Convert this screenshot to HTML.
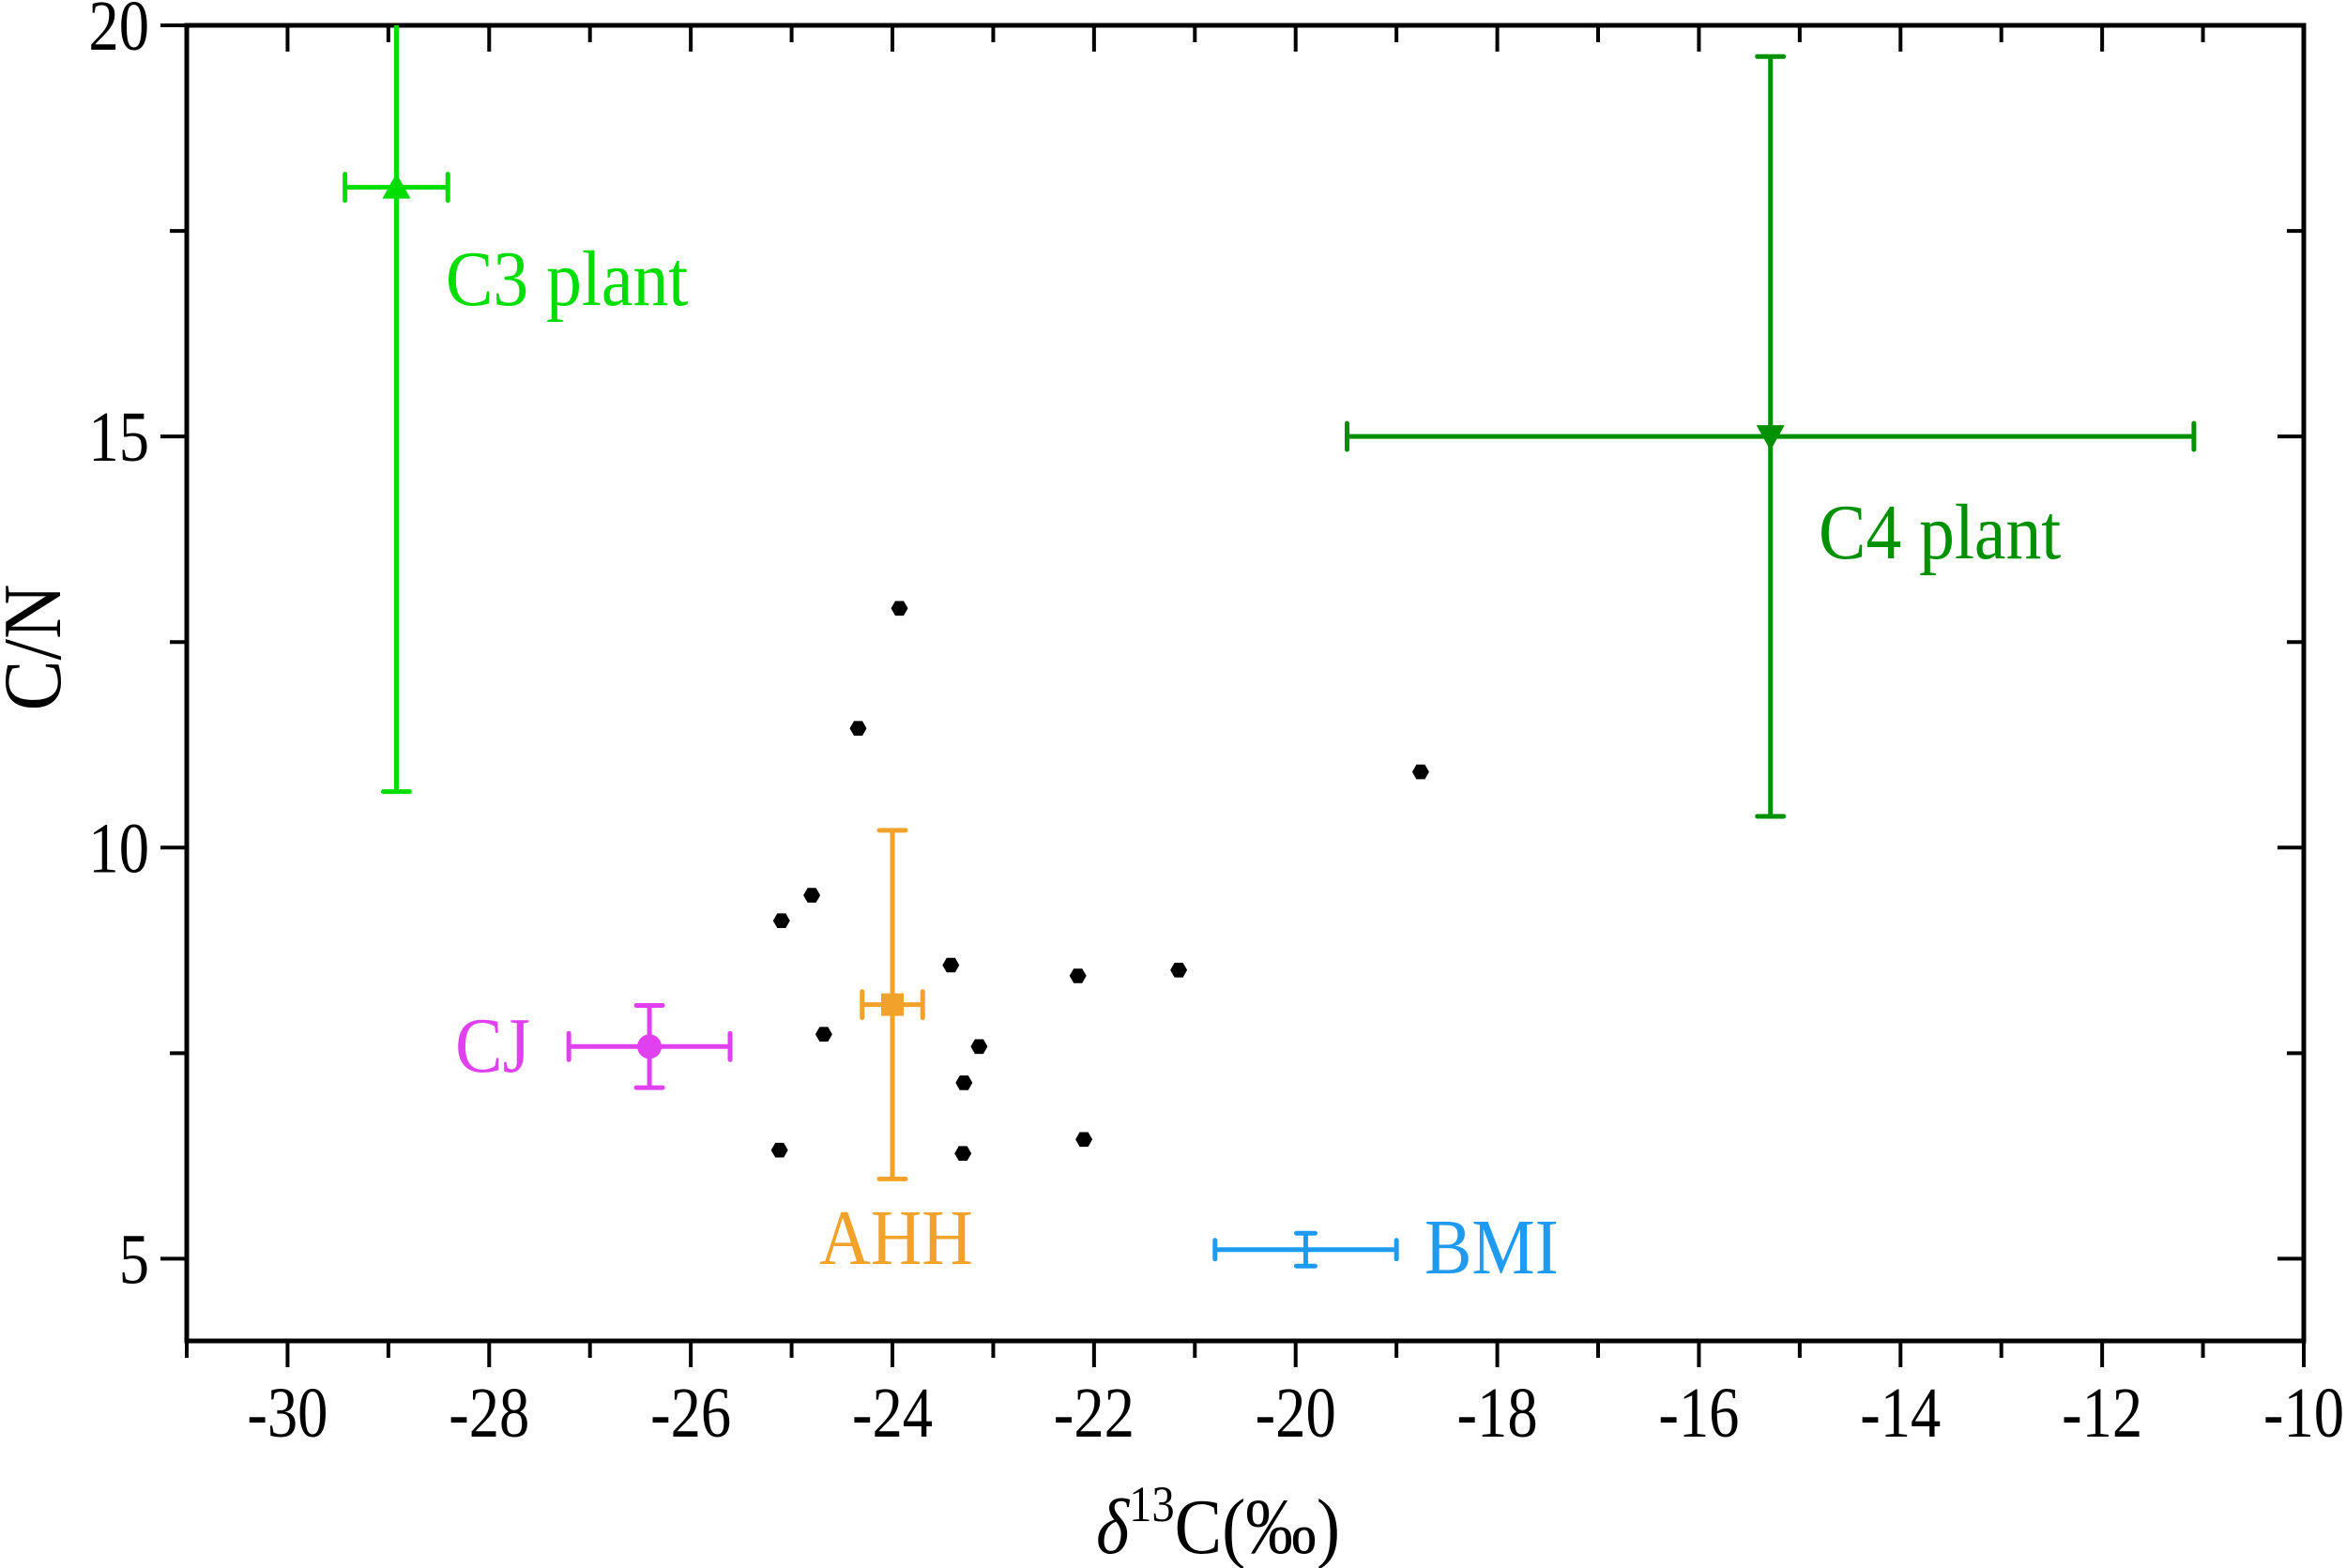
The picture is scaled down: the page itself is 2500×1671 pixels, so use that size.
<!DOCTYPE html>
<html><head><meta charset="utf-8"><style>
html,body{margin:0;padding:0;background:#fff;}
svg{display:block;font-family:"Liberation Serif",serif;}
</style></head><body>
<svg id="chart" width="2500" height="1671" viewBox="0 0 2500 1671" xmlns="http://www.w3.org/2000/svg">
<g id="axes"></g>
<g id="marks"></g>
<text x="0" y="0" transform="translate(64,690) rotate(-90) scale(0.92,1)" font-size="88" text-anchor="middle">C/N</text>
<text x="0" y="0" transform="translate(1298,1655) scale(0.9,1)" font-size="84" text-anchor="middle"><tspan font-style="italic">δ</tspan><tspan font-size="54" dy="-34">13</tspan><tspan dy="34">C(‰)</tspan></text>
</svg>
<script>
const xTicks = [-30,-28,-26,-24,-22,-20,-18,-16,-14,-12,-10];
const yTicks = [5,10,15,20];
const sampleX = [-23.93,-24.34,-18.76,-24.80,-25.10,-23.42,-22.16,-21.16,-24.68,-23.14,-23.29,-25.12,-23.30,-22.10];
const sampleY = [12.91,11.45,10.92,9.42,9.11,8.57,8.44,8.51,7.73,7.58,7.14,6.32,6.28,6.45];
const groupNames = ["C3 plant","C4 plant","AHH","CJ","BMI"];
const groupX = [-28.92,-15.29,-24.0,-26.41,-19.90];
const groupY = [18.03,15.0,8.09,7.58,5.11];
const groupXErr = [0.51,4.2,0.3,0.8,0.9];
const groupYErr = [7.35,4.62,2.12,0.5,0.2];

const X0=-31,X1=-10,Y0=4,Y1=20;
const L=199,R=2455,T=27,B=1429;
const xs=v=>L+(v-X0)/(X1-X0)*(R-L);
const ys=v=>B-(v-Y0)/(Y1-Y0)*(B-T);
const NS="http://www.w3.org/2000/svg";
function mk(tag,attrs,parent){const e=document.createElementNS(NS,tag);for(const k in attrs)e.setAttribute(k,attrs[k]);parent.appendChild(e);return e;}
const axes=document.getElementById('axes'), marks=document.getElementById('marks');
let frame=mk('rect',{x:L,y:T,width:R-L,height:B-T,fill:'none',stroke:'#000','stroke-width':5},axes);


for(let v=-31;v<=-10;v++){
  const major=xTicks.includes(v);
  const x=xs(v);
  let t=mk('line',{x1:x,x2:x,y1:B,y2:B+(major?28:18),stroke:'#000','stroke-width':4},axes);
  
  
  let t2=mk('line',{x1:x,x2:x,y1:T,y2:T+(major?28:18),stroke:'#000','stroke-width':4},axes);
  
  
}
xTicks.forEach(v=>{
  let tx=mk('text',{x:0,y:0,transform:`translate(${xs(v)},${B+102}) scale(0.85,1)`,'font-size':76,'text-anchor':'middle'},axes);
  tx.textContent=v;
  
  
});
for(let v=5;v<=20;v+=2.5){
  const major=yTicks.includes(v);
  const y=ys(v);
  let t=mk('line',{x1:L-(major?28:18),x2:L,y1:y,y2:y,stroke:'#000','stroke-width':4},axes);
  
  
  let t2=mk('line',{x1:R-(major?28:18),x2:R,y1:y,y2:y,stroke:'#000','stroke-width':4},axes);
  
  
}
yTicks.forEach(v=>{
  let tx=mk('text',{x:0,y:0,transform:`translate(${L-40},${ys(v)+26}) scale(0.85,1)`,'font-size':76,'text-anchor':'end'},axes);
  tx.textContent=v;
  
  
});
sampleX.forEach((v,i)=>{
  const cx=xs(v),cy=ys(sampleY[i]),r=9;
  let pts=[];for(let k=0;k<6;k++){const a=Math.PI/3*k;pts.push((cx+r*Math.cos(a)).toFixed(1)+','+(cy+r*Math.sin(a)).toFixed(1));}
  let p=mk('polygon',{points:pts.join(' '),fill:'#000'},marks);
  
  
});
const colors=['#00dd00','#009100','#f0a22a','#e040f0','#1e9bf0'];
const shapes=['tri-up','tri-down','square','circle','none'];
const labelPos=[[475,325,'start'],[1938,595,'start'],[955,1347,'middle'],[565,1142,'end'],[1518,1357,'start']];
const cap=[14,14,14,14,10];
const clip=mk('clipPath',{id:'pc'},marks);mk('rect',{x:L,y:T,width:R-L,height:B-T},clip);
groupNames.forEach((n,i)=>{
  const g=mk('g',{'clip-path':'url(#pc)'},marks);
  
  
  const c=colors[i],cx=xs(groupX[i]),cy=ys(groupY[i]);
  const x1=xs(groupX[i]-groupXErr[i]),x2=xs(groupX[i]+groupXErr[i]);
  const y1=ys(groupY[i]+groupYErr[i]),y2=ys(groupY[i]-groupYErr[i]);
  const sw=5,h=cap[i];
  let e=mk('path',{d:`M${x1},${cy}H${x2}M${x1},${cy-h}V${cy+h}M${x2},${cy-h}V${cy+h}M${cx},${y1}V${y2}M${cx-h},${y1}H${cx+h}M${cx-h},${y2}H${cx+h}`,stroke:c,'stroke-width':sw,fill:'none','stroke-linecap':'round'},g);
  
  
  let m=null;const s=15;
  if(shapes[i]==='tri-up')m=mk('polygon',{points:`${cx},${cy-s} ${cx-s},${cy+s*0.8} ${cx+s},${cy+s*0.8}`,fill:c},g);
  else if(shapes[i]==='tri-down')m=mk('polygon',{points:`${cx},${cy+s} ${cx-s},${cy-s*0.8} ${cx+s},${cy-s*0.8}`,fill:c},g);
  else if(shapes[i]==='square')m=mk('rect',{x:cx-12,y:cy-12,width:24,height:24,fill:c},g);
  else if(shapes[i]==='circle')m=mk('circle',{cx:cx,cy:cy,r:13,fill:c},g);
  if(m){}
  let t=mk('text',{x:0,y:0,transform:`translate(${labelPos[i][0]},${labelPos[i][1]}) scale(0.9,1)`,'font-size':84,fill:c,'text-anchor':labelPos[i][2]},marks);
  t.textContent=n;
  
  
});
</script>
</body></html>
